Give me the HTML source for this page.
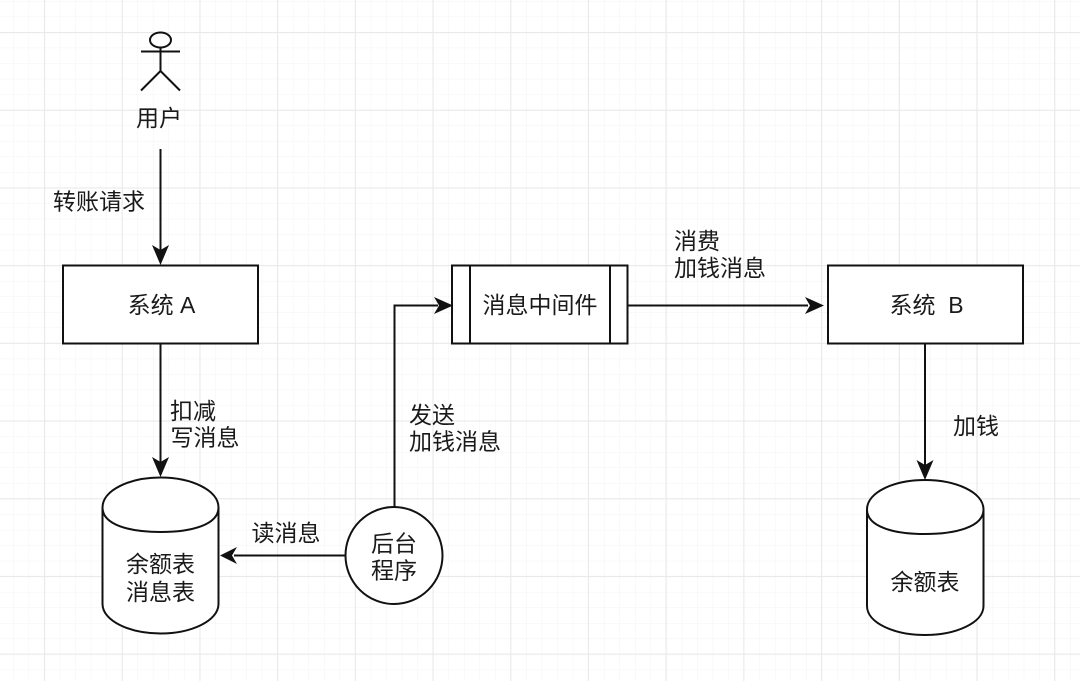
<!DOCTYPE html>
<html>
<head>
<meta charset="utf-8">
<style>
html,body{margin:0;padding:0;background:#fff}
svg{display:block}
text{font-family:"Liberation Sans","Noto Sans CJK SC",sans-serif;font-size:23px;fill:#1a1a1a;text-anchor:middle}
</style>
</head>
<body>
<svg width="1080" height="681" viewBox="0 0 1080 681" xmlns="http://www.w3.org/2000/svg">
<defs>
<pattern id="minor" x="13.5" y="1.5" width="15.55" height="15.55" patternUnits="userSpaceOnUse">
<path d="M15.55 0V15.55M0 15.55H15.55" stroke="#f3f3f3" stroke-width="1" fill="none"/>
</pattern>
<pattern id="major" x="44" y="32" width="77.7" height="77.7" patternUnits="userSpaceOnUse">
<path d="M0.5 0V77.7M0 0.5H77.7" stroke="#e9e9e9" stroke-width="1.2" fill="none"/>
</pattern>
</defs>
<rect width="1080" height="681" fill="#fff"/>
<rect width="1080" height="681" fill="url(#minor)"/>
<rect width="1080" height="681" fill="url(#major)"/>

<g fill="none" stroke="#111" stroke-width="2">
<!-- actor -->
<ellipse cx="160.500" cy="40" rx="10.500" ry="7.500"/>
<path d="M160.500 47.500V71M141 51.500H180M160.500 71L141 90.500M160.500 71L180 90.500"/>
<!-- connectors -->
<path d="M160.500 149V250"/>
<path d="M160.500 343V463"/>
<path d="M394.500 507V305.500H438"/>
<path d="M628 305.500H808"/>
<path d="M925 343V466"/>
<path d="M345 555.500H234"/>
<!-- boxes -->
<rect x="63" y="265.500" width="195" height="78" fill="#fff"/>
<rect x="452" y="265.500" width="175.500" height="78" fill="#fff"/>
<path d="M470 265.500V343.500M610 265.500V343.500"/>
<rect x="828" y="265.500" width="195" height="78" fill="#fff"/>
<!-- cylinders -->
<path d="M102.500 507.500C102.500 490 130 477.500 160.500 477.500C191 477.500 218.500 490 218.500 507.500V604C218.500 621 191 633.500 160.500 633.500C130 633.500 102.500 621 102.500 604Z" fill="#fff"/>
<path d="M102.500 507.500C102.500 525 130 532 160.500 532C191 532 218.500 525 218.500 507.500"/>
<path d="M867 509.500C867 492 894.500 480 925 480C955.500 480 983.500 492 983.500 509.500V606C983.500 623 955.500 635 925 635C894.500 635 867 623 867 606Z" fill="#fff"/>
<path d="M867 509.500C867 527 894.500 534 925 534C955.500 534 983.500 527 983.500 509.500"/>
<!-- circle -->
<circle cx="394" cy="555.500" r="48.500" fill="#fff"/>
</g>

<g fill="#111" stroke="none">
<path d="M160.500 265L152 245L160.500 250L169 245Z"/>
<path d="M160.500 477L152 457L160.500 462L169 457Z"/>
<path d="M453 305.500L434 297L439 305.500L434 314Z"/>
<path d="M824 305.500L805 297L810 305.500L805 314Z"/>
<path d="M925 480L916.500 460L925 465L933.500 460Z"/>
<path d="M220 555.500L237 547L232 555.500L237 564Z"/>
</g>

<text x="159" y="126">用户</text>
<text x="99" y="209.500">转账请求</text>
<text x="161.500" y="313">系统 A</text>
<text x="540" y="313">消息中间件</text>
<text x="926.500" y="313">系统&#160;&#160;B</text>
<text x="697" y="249">消费</text>
<text x="720" y="276">加钱消息</text>
<text x="193" y="419">扣减</text>
<text x="205" y="445.500">写消息</text>
<text x="432" y="423">发送</text>
<text x="455" y="449.500">加钱消息</text>
<text x="976" y="434">加钱</text>
<text x="286" y="541">读消息</text>
<text x="160.500" y="572">余额表</text>
<text x="160.500" y="600">消息表</text>
<text x="394" y="551.500">后台</text>
<text x="394" y="578.500">程序</text>
<text x="925" y="590">余额表</text>
</svg>
</body>
</html>
